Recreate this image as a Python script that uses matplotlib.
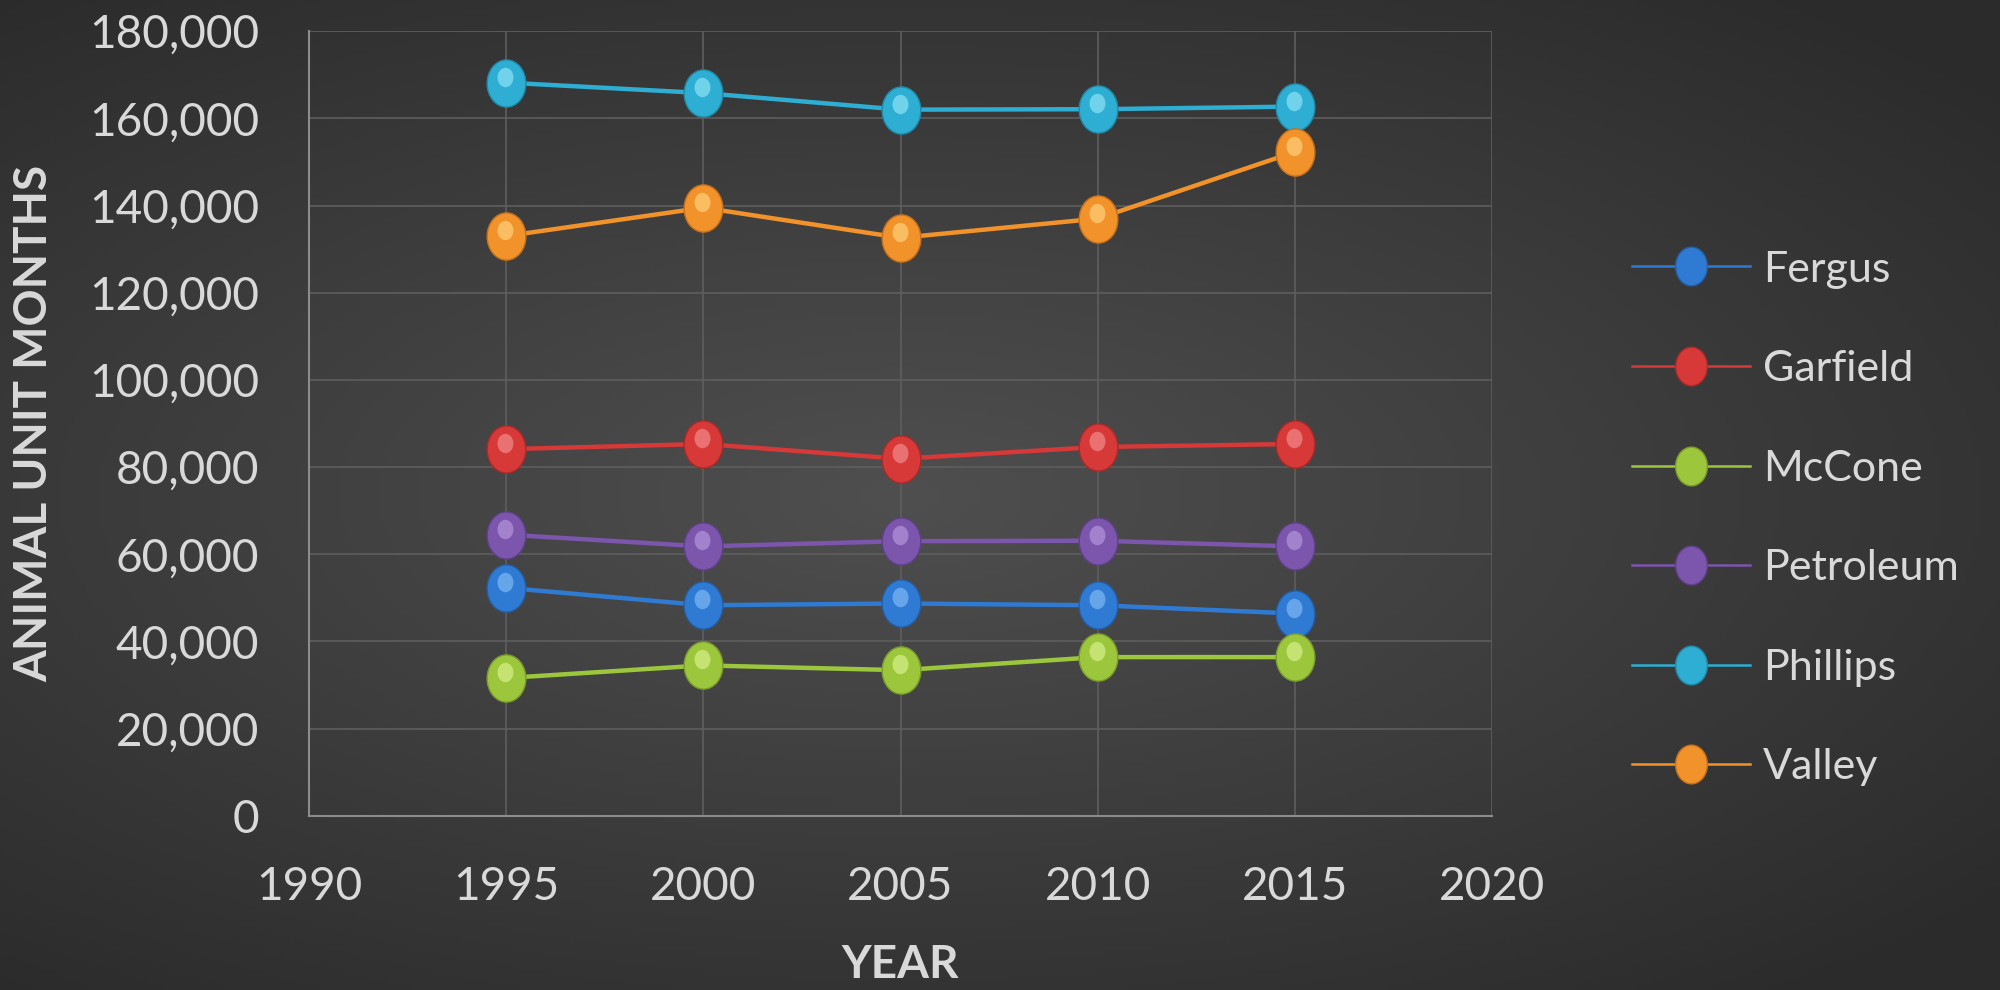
import numpy as np
import matplotlib.pyplot as plt
from matplotlib.path import Path
from matplotlib.transforms import offset_copy, Affine2D
from matplotlib.ticker import FuncFormatter

# ================================
# DATA
# ================================
years = [1995, 2000, 2005, 2010, 2015]
counties = ["Fergus", "Garfield", "McCone", "Petroleum", "Phillips", "Valley"]
fergus = [52300, 48300, 48700, 48300, 46400]
garfield = [84100, 85300, 81900, 84600, 85300]
mccone = [31600, 34500, 33400, 36400, 36400]
petroleum = [64500, 61800, 63000, 63100, 61800]
phillips = [168200, 165800, 162000, 162100, 162700]
valley = [133000, 139500, 132600, 137000, 152300]

series = [fergus, garfield, mccone, petroleum, phillips, valley]
colors = ["#2f7bd3", "#d73838", "#9cc63b", "#7c55ad", "#2daed2", "#f2922a"]
highlights = ["#7fb8f5", "#f28a8a", "#d6f08a", "#b596dc", "#8fe4f7", "#ffd07a"]
edges = ["#245fa6", "#a82a2a", "#7a9c2c", "#5f4088", "#2088a6", "#c4701c"]

plt.rcParams['font.family'] = ['Lato', 'DejaVu Sans']
TXT = "#d9d9d9"

fig = plt.figure(figsize=(20, 9.9), dpi=100)

# background radial gradient
bg = fig.add_axes([0, 0, 1, 1], zorder=-10)
gx, gy = np.meshgrid(np.linspace(-1, 1, 400), np.linspace(-1, 1, 200))
r = np.sqrt(((gx + 0.1) / 1.1) ** 2 + (gy / 1.0) ** 2)
shade = 0.31 - 0.14 * np.clip(r, 0, 1.3) / 1.3
bg.imshow(np.dstack([shade] * 3), extent=[0, 1, 0, 1], aspect='auto', origin='lower')
bg.axis('off')

ax = fig.add_axes([0.1545, 0.176, 0.5915, 0.7925])
ax.set_facecolor('none')

# slightly oval marker like the reference
oval = Path.unit_circle().transformed(Affine2D().scale(0.82, 1.0))
hl_tr = offset_copy(ax.transData, fig=fig, x=-1, y=6, units='dots')

handles = []
for name, vals, c, h, e in zip(counties, series, colors, highlights, edges):
    ln, = ax.plot(years, vals, color=c, lw=3.2, marker=oval, ms=34,
                  mfc=c, mec=e, mew=1.0, label=name, zorder=3)
    ax.plot(years, vals, ls='none', marker=oval, ms=14, mfc=h, mec='none',
            alpha=0.7, transform=hl_tr, zorder=4)
    handles.append(ln)

ax.set_xlim(1990, 2020)
ax.set_ylim(0, 180000)
ax.set_xticks(range(1990, 2021, 5))
ax.set_yticks(range(0, 180001, 20000))
ax.yaxis.set_major_formatter(FuncFormatter(lambda v, p: f"{int(v):,}"))
ax.grid(True, color="#5e5e5e", lw=1.2)
ax.set_axisbelow(True)
for s in ["top", "right"]:
    ax.spines[s].set_visible(False)
for s in ["left", "bottom"]:
    ax.spines[s].set_color("#8c8c8c")
    ax.spines[s].set_linewidth(1.5)
ax.tick_params(length=0, colors=TXT, labelsize=33)
ax.tick_params(axis='x', pad=36)
ax.tick_params(axis='y', pad=36)

ax.set_xlabel("YEAR", color=TXT, fontsize=33, fontweight='bold', labelpad=26)
ax.set_ylabel("ANIMAL UNIT MONTHS", color=TXT, fontsize=33, fontweight='bold', labelpad=24)

leg = fig.legend(handles=handles, loc='center left', bbox_to_anchor=(0.816, 0.4763),
                 frameon=False, fontsize=31, labelcolor=TXT, handlelength=2.74,
                 handletextpad=0.3, labelspacing=1.43, borderpad=0, borderaxespad=0,
                 markerscale=0.82)
for lh in leg.legend_handles:
    lh.set_linewidth(1.8)

fig.savefig("out.png", dpi=100)
